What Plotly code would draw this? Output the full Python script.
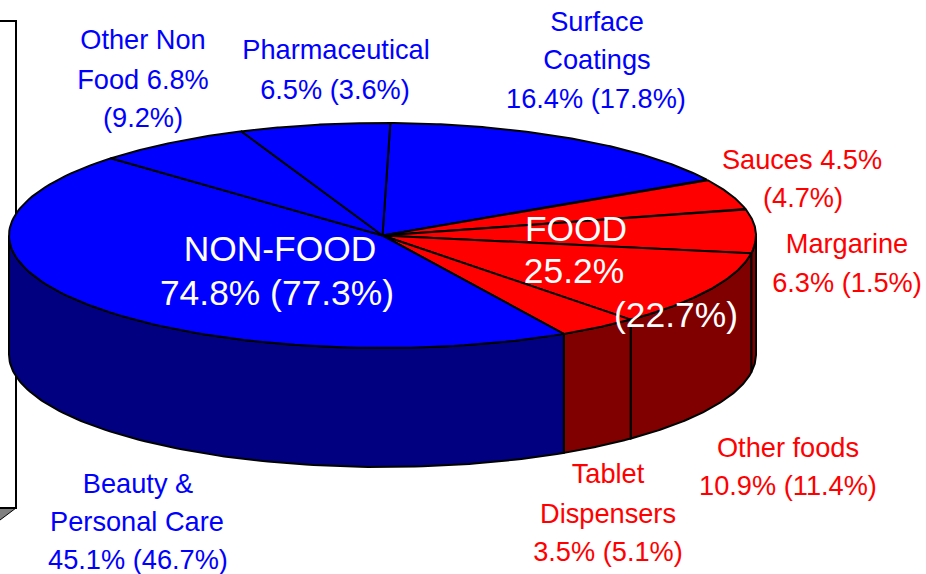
import numpy as np
import plotly.graph_objects as go

# Data
slices = ["Surface Coatings", "Sauces", "Margarine", "Other foods", "Tablet Dispensers",
          "Beauty & Personal Care", "Other Non Food", "Pharmaceutical"]
shares = [16.4, 4.5, 6.3, 10.9, 3.5, 45.1, 6.8, 6.5]
groups = ["NON-FOOD", "FOOD", "FOOD", "FOOD", "FOOD", "NON-FOOD", "NON-FOOD", "NON-FOOD"]

blue_labels = ["Other Non", "Food 6.8%", "(9.2%)", "Pharmaceutical", "6.5% (3.6%)", "Surface", "Coatings",
               "16.4% (17.8%)", "Beauty &", "Personal Care", "45.1% (46.7%)"]
red_labels = ["Sauces 4.5%", "(4.7%)", "Margarine", "6.3% (1.5%)", "Other foods", "10.9% (11.4%)",
              "Tablet", "Dispensers", "3.5% (5.1%)"]
white_labels = ["NON-FOOD", "74.8% (77.3%)", "FOOD", "25.2%", "(22.7%)"]

# Layout (pixel-based)
W, H = 926, 574
CX, CY, RX, RY, DEPTH = 382.5, 235.5, 373.5, 112.5, 119
START = 1.2
TOP = {"NON-FOOD": "#0000FF", "FOOD": "#FF0000"}
SIDE = {"NON-FOOD": "#000080", "FOOD": "#800000"}
blue_pos = [(143, 42), (143, 82), (143, 120), (336, 52), (335, 92), (597, 24), (597, 62),
            (596, 101), (138, 486), (137, 524), (138, 562)]
red_pos = [(802, 162), (803, 200), (847, 246), (847, 285), (788, 450), (788, 488),
           (608, 476), (608, 516), (608, 554)]
white_pos = [(280, 252), (277, 296), (576, 232), (574, 274), (676, 318)]
LABEL_SIZE = 27.2
BIG_SIZE = 35.4


def rim(a0, a1, dy=0.0, n=100):
    t = np.radians(np.linspace(a0, a1, n))
    return CX + RX * np.sin(t), CY - RY * np.cos(t) + dy


fig = go.Figure()


def poly(x, y, fill, lw=2, color="black"):
    fig.add_trace(go.Scatter(x=list(x), y=list(y), mode="lines", fill="toself", fillcolor=fill,
                             line=dict(color=color, width=lw), hoverinfo="skip", showlegend=False))


# Background box with its grey floor
poly([0, 16, 0], [508, 508, 520], "#808080", lw=1)
fig.add_trace(go.Scatter(x=[0, 16, 16, 0], y=[21, 21, 508, 508], mode="lines",
                         line=dict(color="black", width=2), hoverinfo="skip", showlegend=False))

edges = START + np.concatenate([[0], np.cumsum(shares)]) * 3.6

# Side walls: only the front half of the rim (90..270 degrees) shows
for g, a0, a1 in zip(groups, edges[:-1], edges[1:]):
    lo, hi = max(a0, 90), min(a1, 270)
    if hi > lo:
        xt, yt = rim(lo, hi)
        xb, yb = rim(hi, lo, DEPTH)
        poly(np.r_[xt, xb, xt[0]], np.r_[yt, yb, yt[0]], SIDE[g])

# Top faces
for g, a0, a1 in zip(groups, edges[:-1], edges[1:]):
    xt, yt = rim(a0, a1)
    poly(np.r_[CX, xt, CX], np.r_[CY, yt, CY], TOP[g])

for labels, pos, color, size in [(blue_labels, blue_pos, "#0000FF", LABEL_SIZE),
                                 (red_labels, red_pos, "#FF0000", LABEL_SIZE),
                                 (white_labels, white_pos, "#FFFFFF", BIG_SIZE)]:
    fig.add_trace(go.Scatter(x=[p[0] for p in pos], y=[p[1] for p in pos], text=labels, mode="text",
                             textposition="middle center", hoverinfo="skip", showlegend=False,
                             cliponaxis=False,
                             textfont=dict(family="Liberation Sans", size=size, color=color)))

fig.update_layout(width=W, height=H, autosize=False, margin=dict(l=0, r=0, t=0, b=0),
                  paper_bgcolor="white", plot_bgcolor="white",
                  xaxis=dict(range=[0, W], visible=False, fixedrange=True),
                  yaxis=dict(range=[H, 0], visible=False, fixedrange=True))
fig.write_html("out.html", config={"displayModeBar": False},
               post_script="document.body.style.margin='0';document.documentElement.style.overflow='hidden';")
